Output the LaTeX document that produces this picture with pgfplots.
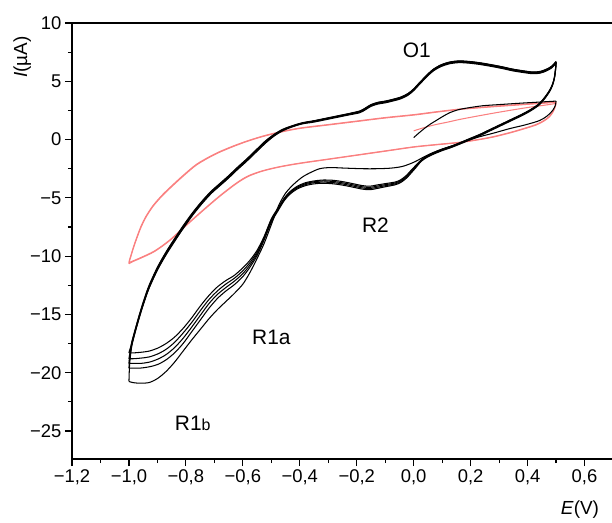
\documentclass[border=0pt]{standalone}
\usepackage{fontspec}
\setmainfont{Liberation Sans}
\usepackage{pgfplots}
\usepackage{pgfplotstable}
\pgfplotsset{compat=1.18}
\definecolor{cvpink}{RGB}{250,128,128}
\pgfplotsset{
  cvb/.style={black, line width=1.05pt, line join=round, smooth, tension=0.5},
  cvp/.style={cvpink, line width=1.05pt, line join=round, smooth, tension=0.5},
}

% anodic branches of the five black cycles (E ascending)
\pgfplotstableread{
E      a1     a2     a3     a4     a5
-1.000 -20.75 -19.6  -19.2  -18.8  -18.3
-0.998 -19.4  -18.9  -18.7  -18.5  -18.1
-0.994 -18.4  -18.2  -18.1  -18.0  -17.8
-0.990 -17.7  -17.6  -17.55 -17.45 -17.35
-0.980 -16.7  -16.65 -16.6  -16.5  -16.45
-0.965 -15.4  -15.35 -15.3  -15.2  -15.15
-0.950 -14.2  -14.15 -14.1  -14.0  -13.95
-0.930 -12.8  -12.75 -12.7  -12.6  -12.55
-0.900 -11.2  -11.15 -11.1  -11.0  -10.95
-0.870 -9.9   -9.85  -9.8   -9.7   -9.65
-0.840 -8.75  -8.7   -8.65  -8.55  -8.5
-0.810 -7.65  -7.6   -7.55  -7.45  -7.4
-0.775 -6.45  -6.4   -6.35  -6.28  -6.22
-0.740 -5.4   -5.35  -5.3   -5.24  -5.18
-0.710 -4.6   -4.55  -4.5   -4.45  -4.4
-0.680 -3.95  -3.9   -3.85  -3.8   -3.75
-0.650 -3.3   -3.25  -3.2   -3.15  -3.1
-0.620 -2.6   -2.55  -2.5   -2.45  -2.4
-0.586 -1.85  -1.8   -1.75  -1.7   -1.65
-0.550 -1.0   -0.95  -0.9   -0.85  -0.8
-0.520 -0.3   -0.25  -0.2   -0.15  -0.1
-0.490 0.3    0.35   0.4    0.42   0.45
-0.460 0.75   0.8    0.82   0.85   0.88
-0.425 1.1    1.13   1.16   1.18   1.2
-0.390 1.35   1.38   1.4    1.42   1.45
-0.350 1.5    1.55   1.58   1.6    1.62
-0.310 1.7    1.75   1.78   1.8    1.82
-0.270 1.9    1.95   1.98   2.0    2.02
-0.230 2.1    2.15   2.18   2.2    2.22
-0.190 2.3    2.35   2.4    2.42   2.45
-0.170 2.55   2.6    2.65   2.68   2.7
-0.150 2.85   2.9    2.95   2.98   3.0
-0.125 3.05   3.1    3.15   3.18   3.2
-0.100 3.15   3.2    3.25   3.28   3.3
-0.074 3.3    3.35   3.4    3.43   3.45
-0.045 3.5    3.55   3.6    3.63   3.65
-0.020 3.8    3.85   3.9    3.93   3.95
0.000  4.2    4.25   4.3    4.33   4.35
0.021  4.75   4.8    4.85   4.88   4.9
0.045  5.35   5.4    5.45   5.48   5.5
0.067  5.85   5.9    5.95   5.98   6.0
0.095  6.25   6.3    6.35   6.38   6.4
0.126  6.5    6.55   6.6    6.63   6.65
0.160  6.6    6.65   6.7    6.73   6.75
0.196  6.55   6.6    6.65   6.68   6.7
0.230  6.45   6.5    6.55   6.58   6.6
0.267  6.3    6.35   6.4    6.43   6.45
0.310  6.1    6.15   6.2    6.23   6.25
0.347  5.9    5.95   6.0    6.03   6.05
0.385  5.75   5.8    5.85   5.88   5.9
0.418  5.65   5.7    5.75   5.78   5.8
0.445  5.7    5.75   5.8    5.83   5.85
0.467  5.9    5.95   6.0    6.03   6.05
0.485  6.15   6.2    6.25   6.28   6.3
0.500  6.55   6.6    6.65   6.68   6.7
}\anod

% cathodic branches of black cycles 2-5 (E descending)
\pgfplotstableread{
E      c2     c3     c4     c5
0.500  6.55   6.6    6.65   6.68
0.498  5.9    5.95   6.0    6.02
0.494  5.2    5.25   5.3    5.32
0.487  4.6    4.65   4.7    4.72
0.477  4.1    4.15   4.2    4.22
0.460  3.5    3.55   3.6    3.62
0.440  2.95   3.0    3.05   3.07
0.410  2.45   2.5    2.55   2.57
0.380  2.05   2.1    2.15   2.17
0.350  1.7    1.75   1.8    1.82
0.320  1.35   1.4    1.45   1.47
0.290  1.0    1.05   1.1    1.12
0.260  0.65   0.7    0.75   0.77
0.230  0.3    0.35   0.4    0.42
0.200  0.0    0.05   0.1    0.12
0.161  -0.4   -0.35  -0.3   -0.28
0.130  -0.7   -0.65  -0.6   -0.58
0.100  -0.95  -0.9   -0.85  -0.83
0.070  -1.25  -1.2   -1.15  -1.13
0.045  -1.55  -1.5   -1.45  -1.43
0.025  -1.9   -1.85  -1.8   -1.78
0.008  -2.4   -2.33  -2.26  -2.2
-0.010 -2.9   -2.82  -2.74  -2.66
-0.025 -3.3   -3.22  -3.14  -3.06
-0.045 -3.68  -3.6   -3.52  -3.44
-0.065 -3.88  -3.8   -3.72  -3.64
-0.100 -4.05  -3.96  -3.87  -3.78
-0.130 -4.2   -4.1   -4.0   -3.9
-0.154 -4.3   -4.2   -4.1   -4.0
-0.180 -4.25  -4.15  -4.05  -3.95
-0.210 -4.1   -4.0   -3.9   -3.8
-0.240 -3.95  -3.85  -3.75  -3.65
-0.280 -3.8   -3.7   -3.6   -3.5
-0.319 -3.75  -3.65  -3.55  -3.47
-0.350 -3.8   -3.7   -3.62  -3.55
-0.380 -3.95  -3.86  -3.78  -3.7
-0.410 -4.25  -4.17  -4.09  -4.02
-0.435 -4.7   -4.62  -4.55  -4.48
-0.455 -5.25  -5.17  -5.1   -5.03
-0.475 -6.05  -5.97  -5.9   -5.82
-0.500 -7.1   -7.0   -6.9   -6.8
-0.525 -8.6   -8.5   -8.4   -8.3
-0.550 -9.95  -9.8   -9.65  -9.5
-0.575 -10.95 -10.75 -10.55 -10.35
-0.600 -11.75 -11.5  -11.25 -11.0
-0.630 -12.45 -12.15 -11.9  -11.65
-0.660 -13.0  -12.7  -12.4  -12.1
-0.690 -13.65 -13.3  -13.0  -12.65
-0.720 -14.5  -14.1  -13.75 -13.4
-0.750 -15.5  -15.1  -14.7  -14.3
-0.780 -16.5  -16.1  -15.7  -15.3
-0.810 -17.5  -17.05 -16.6  -16.2
-0.840 -18.3  -17.85 -17.4  -16.95
-0.870 -18.9  -18.45 -18.0  -17.5
-0.900 -19.3  -18.85 -18.4  -17.9
-0.930 -19.5  -19.1  -18.65 -18.15
-0.960 -19.6  -19.2  -18.75 -18.25
-0.985 -19.6  -19.2  -18.8  -18.3
-1.000 -19.6  -19.2  -18.8  -18.3
}\cath

% pink cycles: cathodic (E descending)
\pgfplotstableread{
E      q1     q2
0.500  3.1    3.2
0.497  2.8    2.85
0.490  2.4    2.45
0.477  1.95   2.0
0.455  1.55   1.6
0.430  1.25   1.3
0.396  0.98   1.02
0.340  0.58   0.62
0.277  0.2    0.24
0.220  -0.05  -0.02
0.161  -0.26  -0.23
0.080  -0.45  -0.42
0.000  -0.65  -0.62
-0.100 -1.0   -0.97
-0.200 -1.35  -1.32
-0.300 -1.7   -1.67
-0.400 -2.05  -2.02
-0.470 -2.35  -2.32
-0.530 -2.7   -2.67
-0.580 -3.15  -3.1
-0.621 -3.75  -3.7
-0.680 -4.85  -4.8
-0.740 -6.1   -6.05
-0.800 -7.4   -7.35
-0.856 -8.65  -8.6
-0.910 -9.6   -9.55
-0.961 -10.2  -10.15
-0.985 -10.45 -10.4
-1.000 -10.65 -10.55
}\pcath

% pink cycles: anodic (E ascending)
\pgfplotstableread{
E      p1     p2
-1.000 -10.65 -10.55
-0.998 -10.4  -10.3
-0.994 -10.1  -10.0
-0.986 -9.45  -9.35
-0.975 -8.65  -8.55
-0.958 -7.55  -7.45
-0.940 -6.65  -6.57
-0.916 -5.75  -5.68
-0.886 -4.9   -4.83
-0.856 -4.18  -4.11
-0.810 -3.15  -3.08
-0.761 -2.15  -2.09
-0.700 -1.3   -1.25
-0.646 -0.72  -0.67
-0.590 -0.2   -0.16
-0.530 0.26   0.3
-0.470 0.62   0.66
-0.400 0.95   0.99
-0.300 1.25   1.29
-0.200 1.55   1.59
-0.100 1.85   1.89
0.000  2.1    2.14
0.080  2.35   2.39
0.161  2.58   2.62
0.230  2.72   2.76
0.300  2.85   2.89
0.400  3.02   3.06
0.460  3.12   3.16
0.500  3.2    3.24
}\panod

\begin{document}
\begin{tikzpicture}
\begin{axis}[
  scale only axis, width=541bp, height=436bp,
  xmin=-1.2, xmax=0.7, ymin=-27.4, ymax=10,
  axis x line*=box, axis y line*=left,
  axis line style={-, line width=1.1pt},
  every outer x axis line/.append style={-},
  every outer y axis line/.append style={-},
  xtick={-1.2,-1,-0.8,-0.6,-0.4,-0.2,0,0.2,0.4,0.6},
  xticklabels={{−1,2},{−1,0},{−0,8},{−0,6},{−0,4},{−0,2},{0,0},{0,2},{0,4},{0,6}},
  ytick={-25,-20,-15,-10,-5,0,5,10},
  yticklabels={−25,−20,−15,−10,−5,0,5,10},
  minor x tick num=1, minor y tick num=1,
  tick align=outside, xtick pos=left, ytick pos=left,
  major tick length=7bp, minor tick length=4bp,
  every tick/.style={black, line width=1.2pt},
  tick label style={font=\fontsize{18.5}{20}\selectfont},
  xlabel={\textit{E}(V)}, ylabel={\textit{I}(µA)},
  label style={font=\fontsize{19}{22}\selectfont},
  xlabel style={at={(axis description cs:0.939,-0.117)}, anchor=center},
  ylabel style={at={(axis description cs:-0.092,0.922)}, anchor=center},
]
% pink (red) cycles
\addplot[cvp] coordinates {
(0,0.75) (0.04,1.05) (0.08,1.3) (0.12,1.5) (0.16,1.72) (0.22,2.0) (0.3,2.35) (0.4,2.75) (0.46,2.95) (0.5,3.1)};
\addplot[cvp] table[x=E,y=q1]{\pcath};
\addplot[cvp] table[x=E,y=p1]{\panod};
\addplot[cvp] table[x=E,y=q2]{\pcath};
\addplot[cvp] table[x=E,y=p2]{\panod};
% black cycle 1: first anodic from 0 V and first cathodic
\addplot[cvb] coordinates {
(0,0.17) (0.02,0.6) (0.04,1.0) (0.06,1.35) (0.08,1.65) (0.1,1.95) (0.126,2.3) (0.155,2.55) (0.186,2.7) (0.242,2.9) (0.3,3.0) (0.361,3.1) (0.43,3.2) (0.5,3.3)};
\addplot[cvb] coordinates {
(0.5,3.3) (0.497,2.9) (0.488,2.5) (0.47,2.05) (0.442,1.63) (0.39,1.25) (0.337,0.94) (0.28,0.55) (0.221,0.17) (0.161,-0.34) (0.12,-0.65) (0.09,-0.9) (0.06,-1.2) (0.032,-1.54) (0.0,-1.95) (-0.039,-2.3) (-0.08,-2.45) (-0.13,-2.5) (-0.179,-2.5) (-0.24,-2.45) (-0.295,-2.4) (-0.33,-2.5) (-0.36,-2.8) (-0.39,-3.2) (-0.42,-3.8) (-0.45,-4.6) (-0.475,-5.7) (-0.5,-7.3) (-0.525,-8.9) (-0.55,-10.2) (-0.575,-11.4) (-0.6,-12.4) (-0.63,-13.2) (-0.66,-13.9) (-0.69,-14.6) (-0.72,-15.4) (-0.75,-16.3) (-0.78,-17.2) (-0.81,-18.15) (-0.84,-19.1) (-0.87,-19.9) (-0.9,-20.5) (-0.93,-20.85) (-0.96,-20.9) (-0.985,-20.85) (-1.0,-20.75)};
% black cycles
\addplot[cvb] table[x=E,y=a1]{\anod};
\addplot[cvb] table[x=E,y=c2]{\cath};
\addplot[cvb] table[x=E,y=a2]{\anod};
\addplot[cvb] table[x=E,y=c3]{\cath};
\addplot[cvb] table[x=E,y=a3]{\anod};
\addplot[cvb] table[x=E,y=c4]{\cath};
\addplot[cvb] table[x=E,y=a4]{\anod};
\addplot[cvb] table[x=E,y=c5]{\cath};
\addplot[cvb] table[x=E,y=a5]{\anod};
% peak labels
\node[anchor=base west, inner sep=0pt, font=\fontsize{21}{24}\selectfont] at (axis cs:-0.0386,7.03) {O1};
\node[anchor=base west, inner sep=0pt, font=\fontsize{21}{24}\selectfont] at (axis cs:-0.182,-7.98) {R2};
\node[anchor=base west, inner sep=0pt, font=\fontsize{21}{24}\selectfont] at (axis cs:-0.568,-17.58) {R1a};
\node[anchor=base west, inner sep=0pt, font=\fontsize{21}{24}\selectfont] at (axis cs:-0.839,-24.96) {R1{\fontsize{16}{18}\selectfont b}};
\end{axis}
\pgfresetboundingbox
\path[use as bounding box] ([xshift=-72bp,yshift=-64bp]current axis.south west) rectangle ([xshift=540bp,yshift=459bp]current axis.south west);
\end{tikzpicture}
\end{document}
